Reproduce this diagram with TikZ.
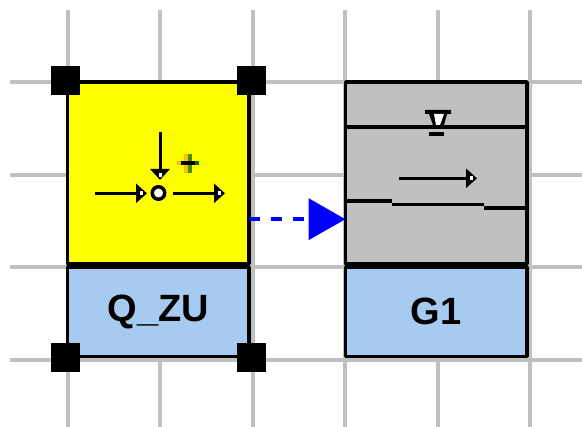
\documentclass[tikz,border=0pt]{standalone}
\usepackage{fontspec}
\setsansfont{Liberation Sans}
\usepackage{xcolor}
\usepackage{tikz}
\usetikzlibrary{arrows.meta}
\definecolor{gridcol}{RGB}{192,192,192}
\definecolor{namecol}{RGB}{166,202,240}
\definecolor{symcol}{RGB}{192,192,192}
\definecolor{qzucol}{RGB}{255,255,0}
\definecolor{linkcol}{RGB}{0,0,255}
\definecolor{plusleft}{RGB}{255,190,0}
\definecolor{plusright}{RGB}{70,140,0}
\definecolor{plusend}{RGB}{0,110,0}
\tikzset{
  block/.style={draw=black,line width=3.5bp,inner sep=0pt,outer sep=0pt,minimum width=181.5bp},
  handle/.style={fill=black,inner sep=0pt,outer sep=0pt,minimum size=29bp},
  namebox/.style={block,fill=namecol,minimum height=89.5bp,font=\fontsize{38bp}{38bp}\selectfont\sffamily\bfseries},
  thinarrow/.style={line width=3bp,-{Triangle[length=11bp,width=19bp]}},
}
\begin{document}
\begin{tikzpicture}[>=latex,line join=bevel,]
  \useasboundingbox (0bp,0bp) rectangle (582bp,427bp);
  % Grid
  \foreach \gx in {67.5,160,252.5,345,437.5,530}
    \draw [gridcol,line width=4bp] (\gx bp,0bp) -- (\gx bp,417bp);
  \foreach \gy in {345,252.3,159.7,67.2}
    \draw [gridcol,line width=4bp] (10bp,\gy bp) -- (582bp,\gy bp);
  % Node: qzuSym
  \node [block,fill=qzucol,minimum height=182bp] (qzuSym) at (158.25bp,254bp) {};
  % Node: qzuName
  \node [namebox] (qzuName) at (158.25bp,115.25bp) {Q\_ZU};
  % Node: gOneSym
  \node [block,fill=symcol,minimum height=182bp] (gOneSym) at (436.25bp,254bp) {};
  % Node: gOneName
  \node [namebox] (gOneName) at (436.25bp,115.25bp) {G1};
  % Edge: qzuSym -> gOneSym
  \coordinate (linkLevel) at (300bp,207.8bp);
  \draw [linkcol,line width=4bp,dash pattern=on 11bp off 11bp,-{Triangle[length=37bp,width=41bp,sep=0pt]}]
    (qzuSym.east |- linkLevel) -- (gOneSym.west |- linkLevel);
  % Handles
  \node [handle] (handleA) at (65.5bp,346.5bp) {};
  \node [handle] (handleB) at (251bp,346.5bp) {};
  \node [handle] (handleC) at (65.5bp,69bp) {};
  \node [handle] (handleD) at (251bp,69bp) {};
  % Symbol in qzuSym
  \begin{scope}
    \fill [plusleft] (184bp,254bp) rectangle (188bp,273bp);
    \fill [plusright] (188bp,254bp) rectangle (192bp,273bp);
    \fill [plusleft] (177bp,262bp) rectangle (181bp,266bp);
    \fill [plusend] (195bp,262bp) rectangle (199bp,266bp);
    \draw [line width=4bp] (181bp,264bp) -- (195bp,264bp);
    \node [circle,draw=black,fill=white,line width=3.5bp,inner sep=0pt,minimum size=12.5bp] (valveDot) at (158.5bp,234bp) {};
    \coordinate (feedTop) at (160bp,295bp);
    \coordinate (feedEnd) at (160bp,247bp);
    \coordinate (inStart) at (95bp,233.7bp);
    \coordinate (inEnd) at (147bp,233.7bp);
    \coordinate (outStart) at (173bp,233.7bp);
    \coordinate (outEnd) at (225bp,233.7bp);
    \draw [thinarrow] (feedTop) -- (feedEnd);
    \draw [thinarrow] (inStart) -- (inEnd);
    \draw [thinarrow] (outStart) -- (outEnd);
    \fill [white] (158.5bp,250bp) rectangle (162bp,254bp);
    \fill [white] (140bp,232bp) rectangle (143bp,235.5bp);
    \fill [white] (218bp,232bp) rectangle (221bp,235.5bp);
  \end{scope}
  % Symbol in gOneSym
  \begin{scope}
    \draw [line width=4bp] (gOneSym.west |- 0,300bp) -- (gOneSym.east |- 0,300bp);
    \fill (425bp,317bp) -- (451bp,317bp) -- (451bp,313bp) -- (447bp,313bp) -- (444bp,302bp) -- (433bp,302bp) -- (429bp,313bp) -- (425bp,313bp) -- cycle;
    \fill [white] (434bp,313bp) -- (444bp,313bp) -- (440bp,302bp) -- (436bp,302bp) -- cycle;
    \fill (429bp,291bp) rectangle (444bp,295bp);
    \coordinate (flowStart) at (399bp,248.7bp);
    \coordinate (flowEnd) at (477bp,248.7bp);
    \draw [thinarrow] (flowStart) -- (flowEnd);
    \fill [white] (470bp,247bp) rectangle (473bp,250.5bp);
    \draw [line width=4bp] (gOneSym.west |- 0,226bp) -- (392bp,226bp);
    \draw [line width=3bp] (392bp,222.5bp) -- (484bp,222.5bp);
    \draw [line width=4bp] (484bp,219bp) -- (gOneSym.east |- 0,219bp);
  \end{scope}
\end{tikzpicture}
\end{document}
